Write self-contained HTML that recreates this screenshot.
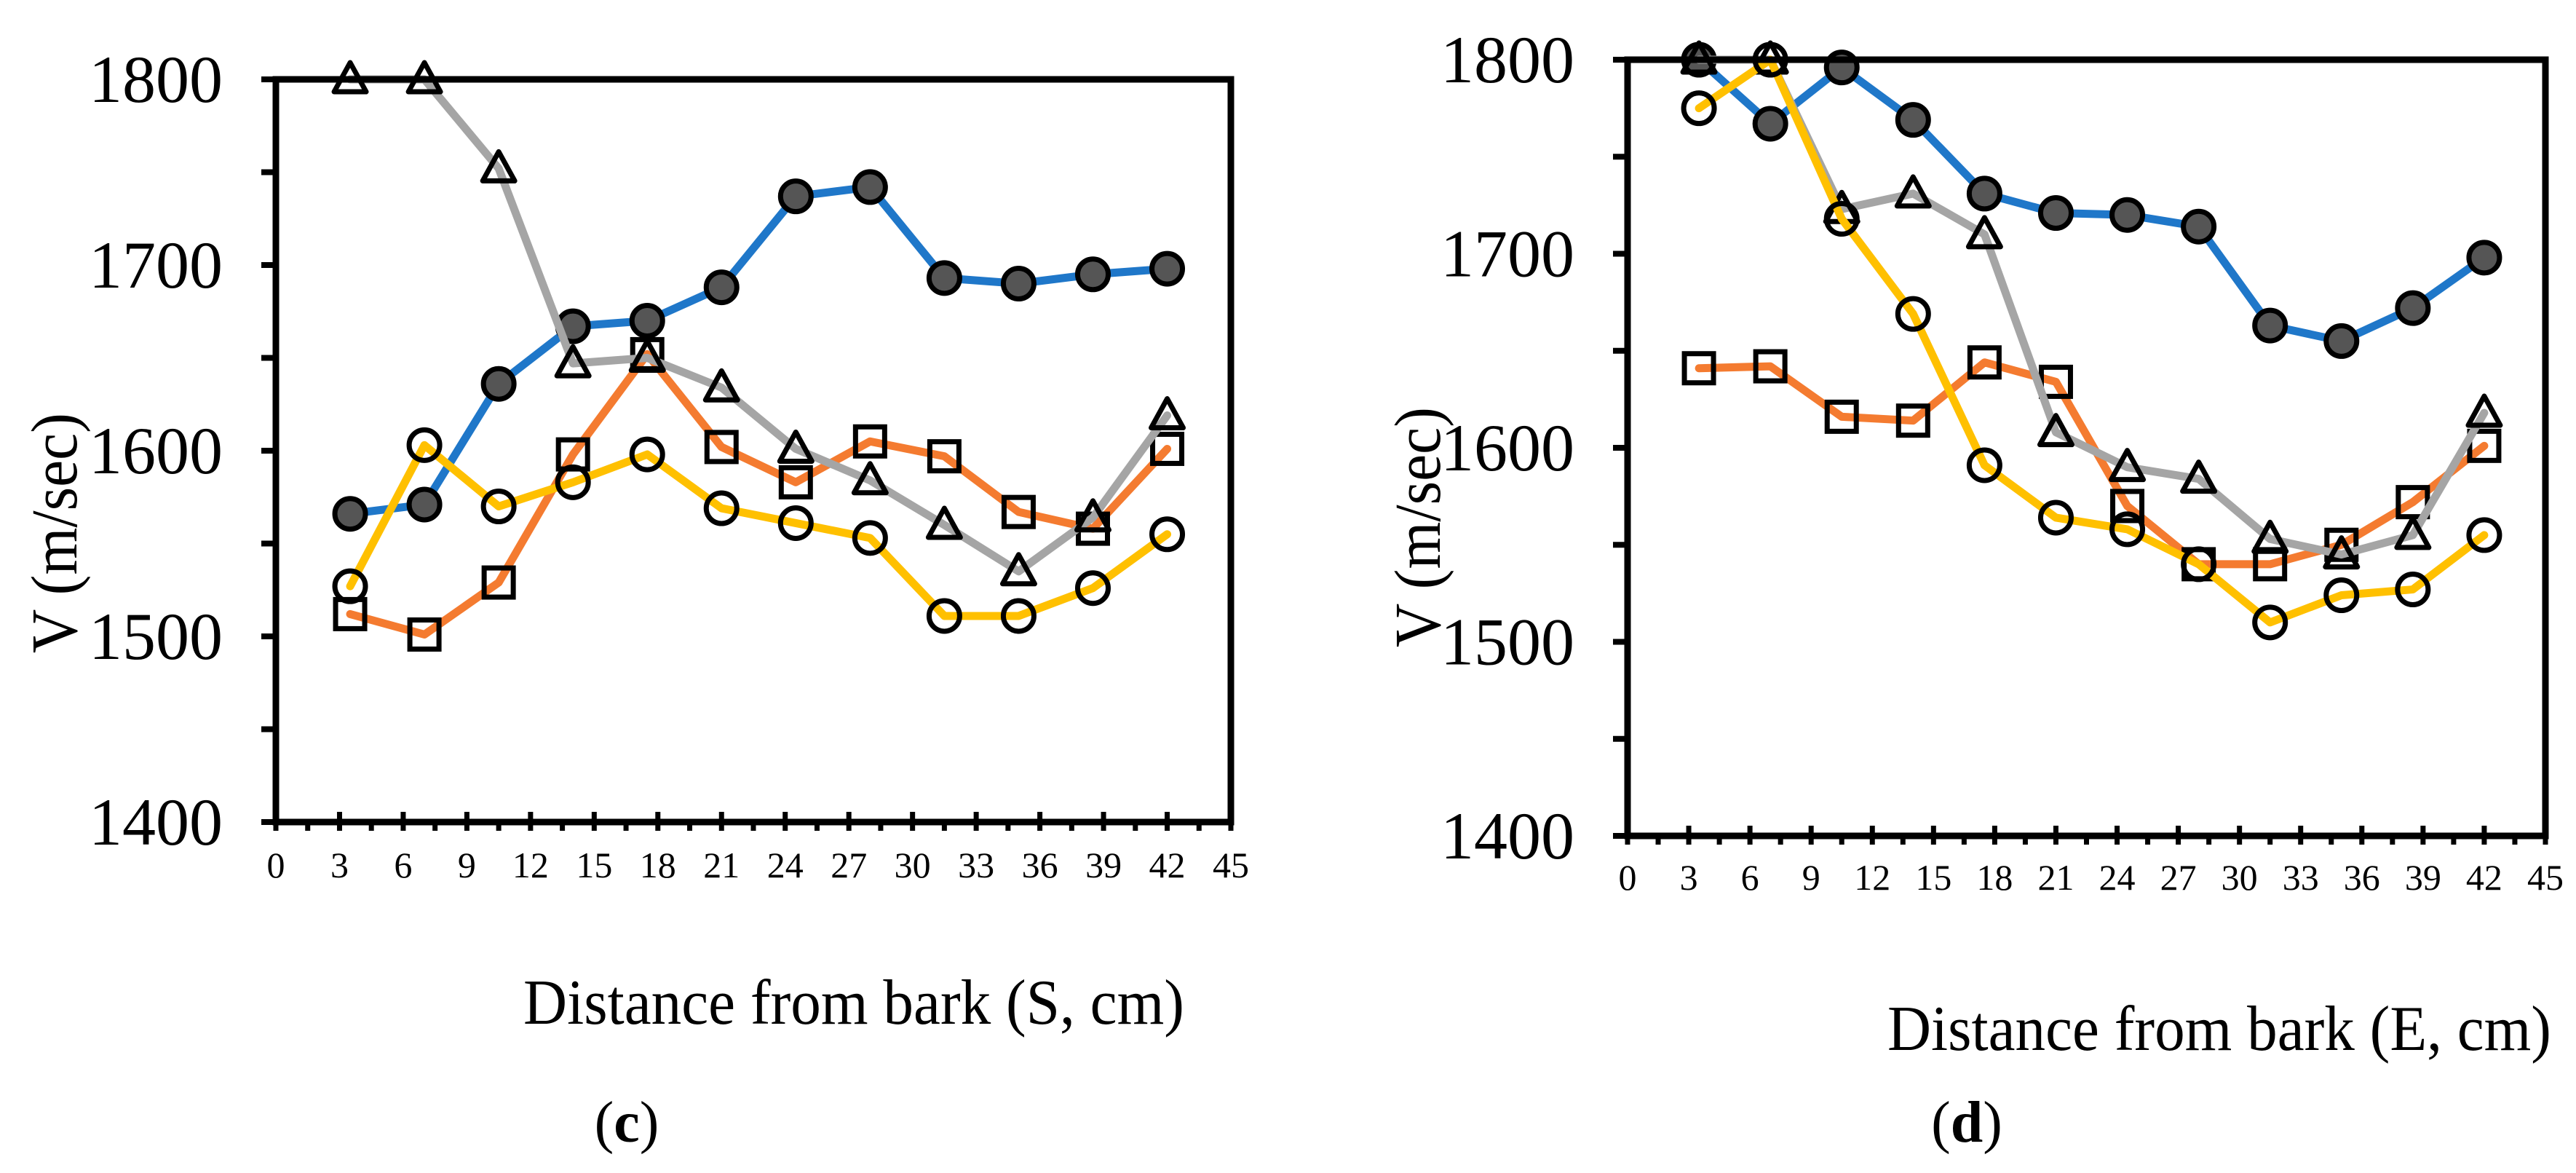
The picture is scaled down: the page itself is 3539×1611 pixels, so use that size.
<!DOCTYPE html>
<html><head><meta charset="utf-8"><style>
html,body{margin:0;padding:0;background:#fff;}
svg{display:block;}
text{font-family:"Liberation Serif",serif;fill:#000;}
</style></head><body>
<svg id="fig" width="3539" height="1611" viewBox="0 0 3539 1611" xmlns="http://www.w3.org/2000/svg">
<g id="chartC"></g>
<g id="chartD"></g>
<text x="719" y="1406" font-size="88" textLength="908" lengthAdjust="spacingAndGlyphs">Distance from bark (S, cm)</text>
<text x="2593" y="1442" font-size="88" textLength="912" lengthAdjust="spacingAndGlyphs">Distance from bark (E, cm)</text>
<text x="861" y="1568" font-size="80" text-anchor="middle">(<tspan font-weight="bold">c</tspan>)</text>
<text x="2702" y="1568" font-size="80" text-anchor="middle">(<tspan font-weight="bold">d</tspan>)</text>
<text transform="translate(105,732) rotate(-90)" font-size="90" text-anchor="middle" textLength="330" lengthAdjust="spacingAndGlyphs">V (m/sec)</text>
<text transform="translate(1978,724) rotate(-90)" font-size="90" text-anchor="middle" textLength="330" lengthAdjust="spacingAndGlyphs">V (m/sec)</text>
</svg>
<script>
const xValues = [3.5, 7, 10.5, 14, 17.5, 21, 24.5, 28, 31.5, 35, 38.5, 42];
const xTicks = [0,3,6,9,12,15,18,21,24,27,30,33,36,39,42,45];
const yTicks = [1400,1500,1600,1700,1800];
// Panel (c)
const cBlue = [1566,1571,1636,1667,1670,1688,1737,1742,1693,1690,1695,1698];
const cOrange = [1512,1501,1529,1598,1652,1602,1583,1605,1597,1567,1558,1601];
const cGray = [1800,1800,1752,1647,1650,1634,1601,1584,1560,1535,1564,1619];
const cYellow = [1527,1603,1570,1583,1598,1569,1561,1553,1511,1511,1526,1555];
// Panel (d)
const dBlue = [1800,1767,1796,1769,1731,1721,1720,1714,1663,1655,1672,1698];
const dOrange = [1641,1642,1616,1614,1644,1634,1570,1540,1540,1550,1572,1601];
const dGray = [1800,1800,1723,1731,1710,1608,1590,1584,1553,1545,1555,1618];
const dYellow = [1775,1800,1718,1669,1591,1564,1558,1540,1510,1524,1527,1555];

const NS='http://www.w3.org/2000/svg';
function mk(tag, attrs, parent){const e=document.createElementNS(NS,tag);for(const k in attrs)e.setAttribute(k,attrs[k]);parent.appendChild(e);return e;}

function drawChart(g, L, R, T, B, tickBase, series, tag){
  const sx=v=>L+(v-0)/(45-0)*(R-L);
  const sy=v=>B-(v-1400)/(1800-1400)*(B-T);
  series.forEach(s=>{
    const pts=xValues.map((x,i)=>sx(x)+','+sy(s.vals[i])).join(' ');
    const pl=mk('polyline',{points:pts,fill:'none',stroke:s.color,'stroke-width':11,'stroke-linejoin':'round','stroke-linecap':'round'},g);
    
    
    xValues.forEach((x,i)=>{
      const cx=sx(x), cy=sy(s.vals[i]);
      let m;
      if(s.marker==='circle'){
        m=mk('circle',{cx:cx,cy:cy,r:21,fill:s.fill,stroke:'#000','stroke-width':7},g);
      } else if(s.marker==='square'){
        m=mk('rect',{x:cx-20,y:cy-20,width:40,height:40,fill:'none',stroke:'#000','stroke-width':7},g);
      } else {
        m=mk('polygon',{points:(cx)+','+(cy-23)+' '+(cx+22)+','+(cy+17)+' '+(cx-22)+','+(cy+17),fill:'none',stroke:'#000','stroke-width':7,'stroke-linejoin':'round'},g);
      }
      
      
    });
  });
  const fr=mk('rect',{x:L,y:T,width:R-L,height:B-T,fill:'none',stroke:'#000','stroke-width':9},g);
  
  
  for(let v=1400; v<=1800; v+=50){
    const t=mk('line',{x1:L-20,x2:L,y1:sy(v),y2:sy(v),stroke:'#000','stroke-width':8},g);
    
    
  }
  yTicks.forEach(v=>{
    const t=mk('text',{x:L-73,y:sy(v)+31,'font-size':92,'text-anchor':'end'},g);
    t.textContent=v;
    
    
  });
  for(let v=0; v<=45; v+=1.5){
    const major=(Math.abs(v%3)<1e-6);
    const t=mk('line',{x1:sx(v),x2:sx(v),y1:major?B-14:B,y2:B+12,stroke:'#000','stroke-width':7},g);
    
    
  }
  xTicks.forEach(v=>{
    const t=mk('text',{x:sx(v),y:tickBase,'font-size':50,'text-anchor':'middle'},g);
    t.textContent=v;
    
    
  });
}
const cSeries=[
  {name:'blue',vals:cBlue,color:'#1F77C9',marker:'circle',fill:'#555555'},
  {name:'orange',vals:cOrange,color:'#F47B30',marker:'square'},
  {name:'gray',vals:cGray,color:'#A5A5A5',marker:'triangle'},
  {name:'yellow',vals:cYellow,color:'#FFC000',marker:'circle',fill:'none'}
];
const dSeries=[
  {name:'blue',vals:dBlue,color:'#1F77C9',marker:'circle',fill:'#555555'},
  {name:'orange',vals:dOrange,color:'#F47B30',marker:'square'},
  {name:'gray',vals:dGray,color:'#A5A5A5',marker:'triangle'},
  {name:'yellow',vals:dYellow,color:'#FFC000',marker:'circle',fill:'none'}
];
drawChart(document.getElementById('chartC'),379,1691,109,1129,1205,cSeries,'c');
drawChart(document.getElementById('chartD'),2236,3497,82,1148,1222,dSeries,'d');
</script>
</body></html>
